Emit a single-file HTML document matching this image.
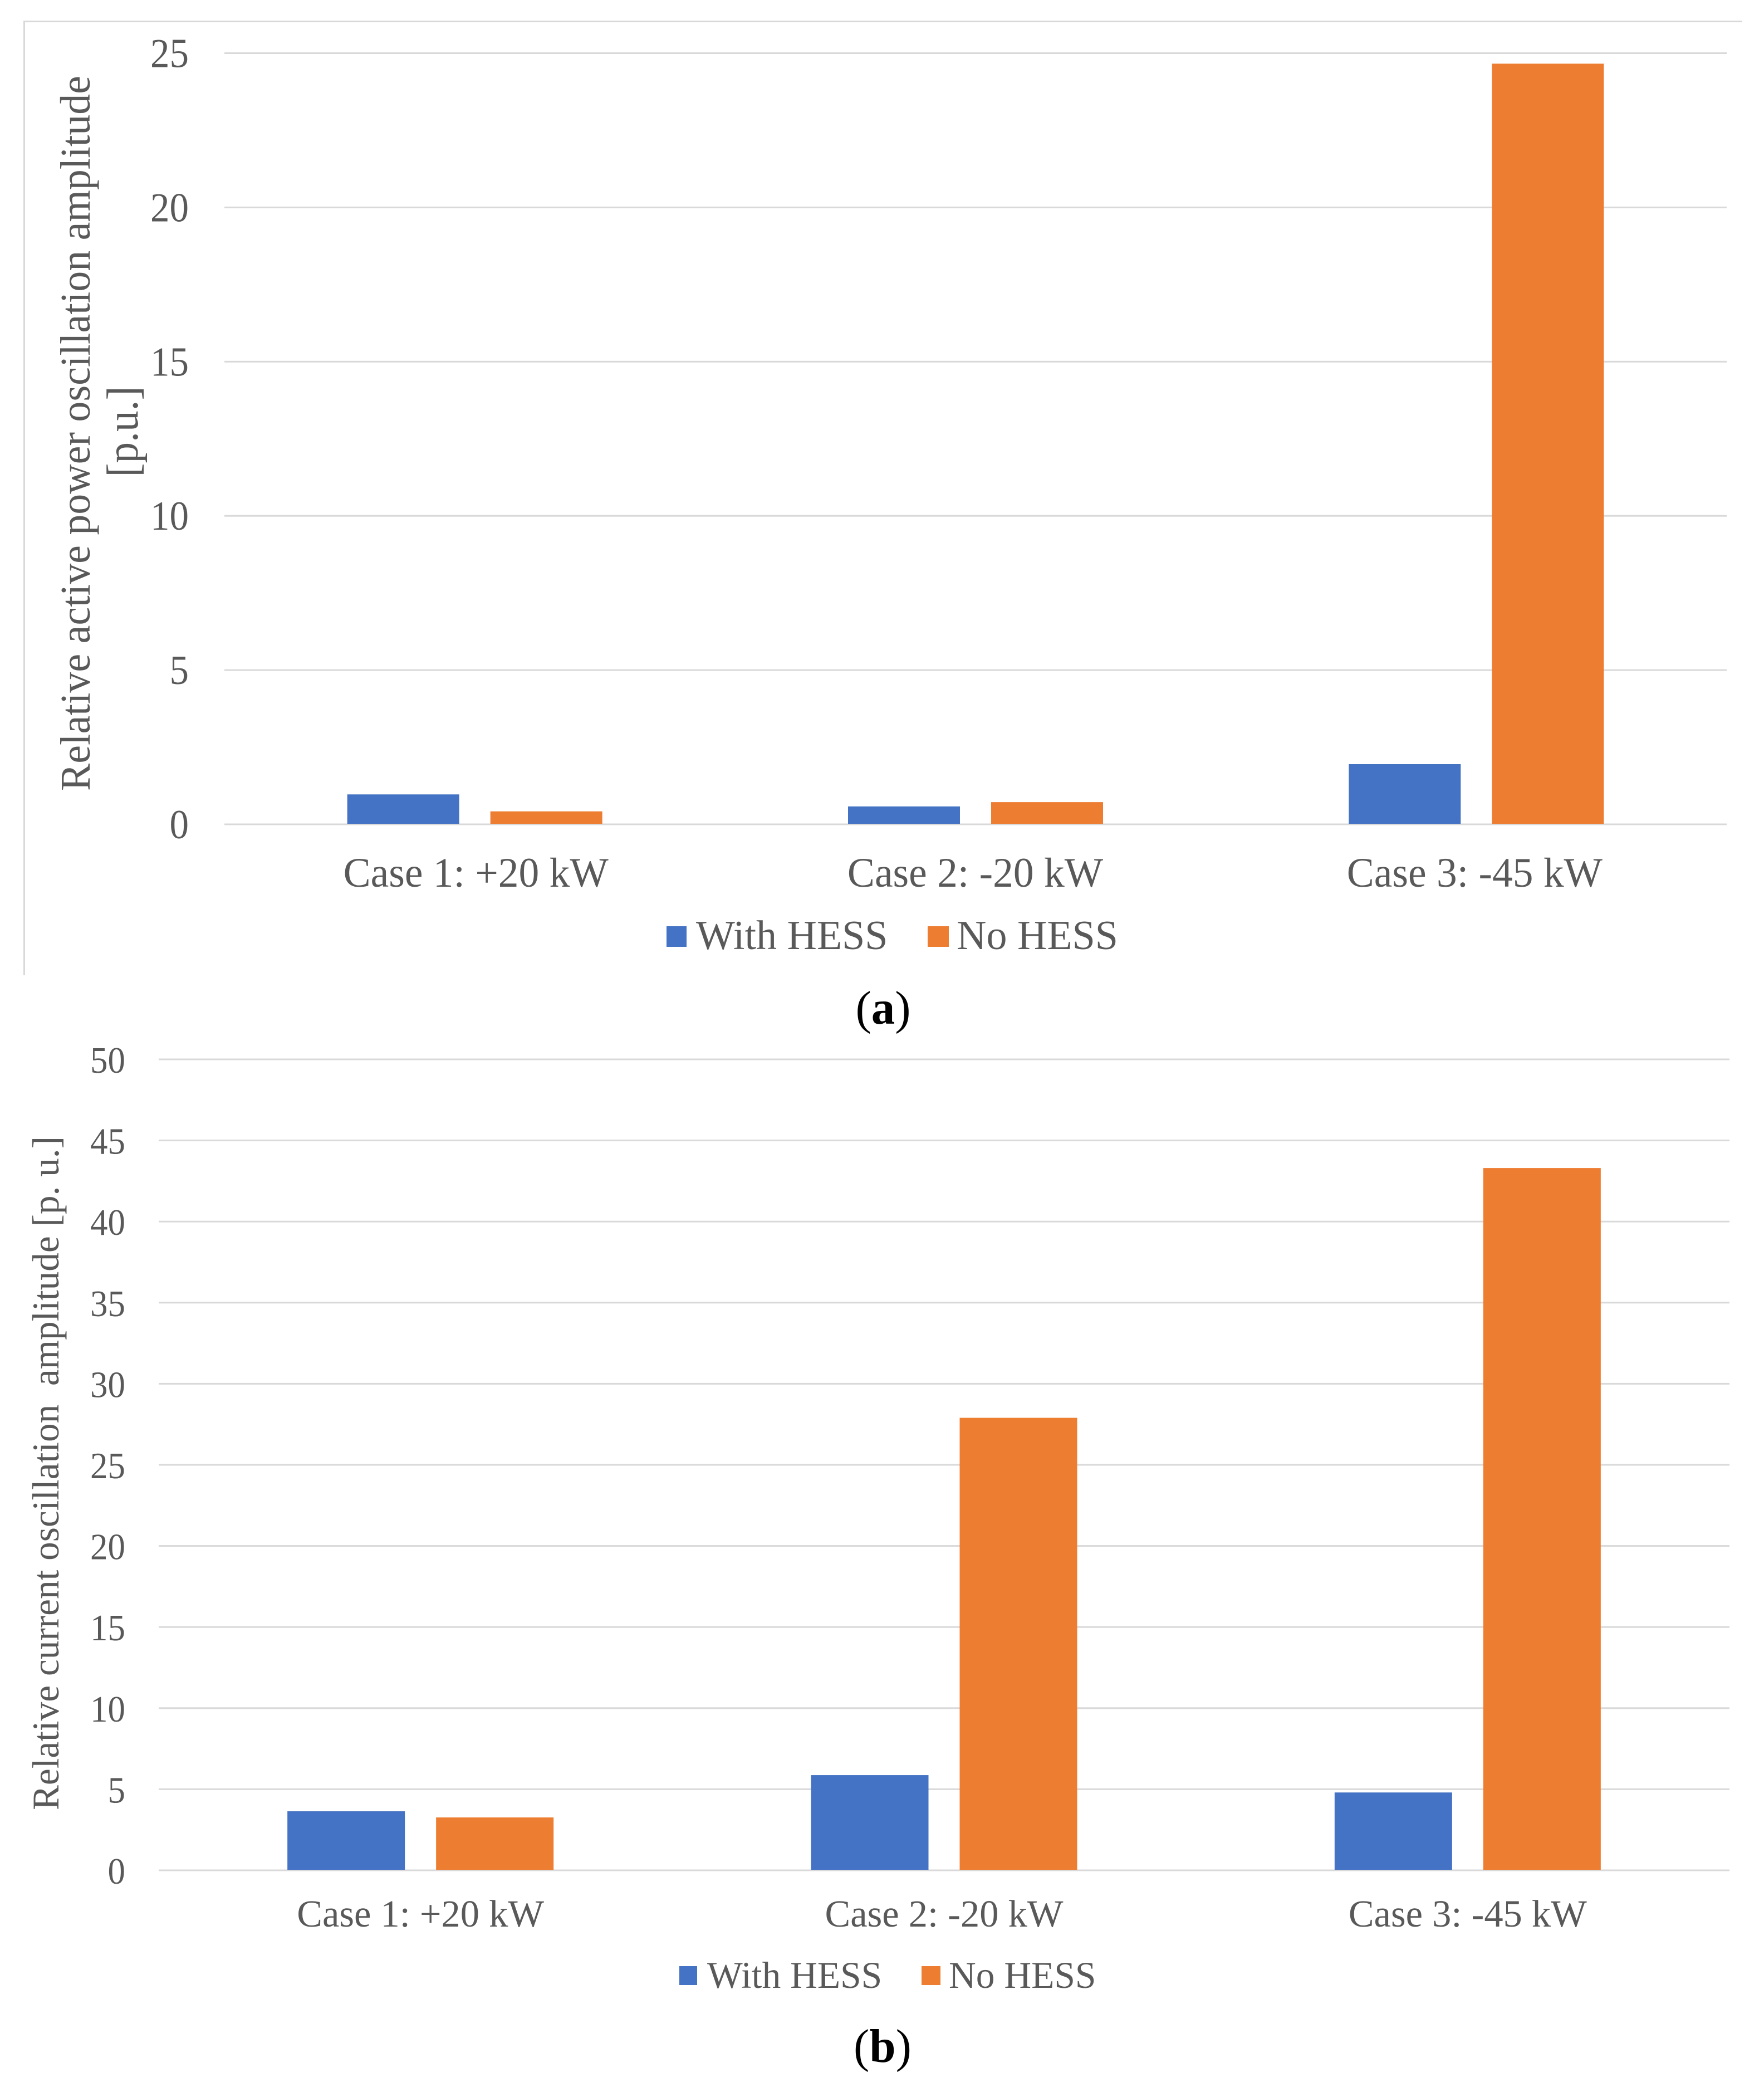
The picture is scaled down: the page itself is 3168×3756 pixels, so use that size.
<!DOCTYPE html>
<html lang="en">
<head>
<meta charset="utf-8">
<title>Relative oscillation amplitude charts</title>
<style>
html,body{margin:0;padding:0;background:#fff;}
svg{display:block;}
text{font-family:"Liberation Serif",serif;}
</style>
</head>
<body>
<svg id="figure" xmlns="http://www.w3.org/2000/svg" width="3168" height="3756" viewBox="0 0 3168 3756">
  <rect x="0" y="0" width="3168" height="3756" fill="#ffffff"/>
  <g stroke="#d9d9d9" stroke-width="3" fill="none">
    <path d="M43.5 1751V38.5H3129"/>
  </g>
  <g id="chart-a"></g>
  <g id="chart-b"></g>
  <text transform="translate(161,778) rotate(-90)" text-anchor="middle" font-size="76" fill="#595959" textLength="1284" lengthAdjust="spacingAndGlyphs">Relative active power oscillation amplitude</text>
  <text transform="translate(247,775) rotate(-90)" text-anchor="middle" font-size="80" fill="#595959" textLength="163" lengthAdjust="spacingAndGlyphs">[p.u.]</text>
  <text transform="translate(105,2645) rotate(-90)" text-anchor="middle" font-size="68" fill="#595959" textLength="1210" lengthAdjust="spacingAndGlyphs" xml:space="preserve">Relative current oscillation  amplitude [p. u.]</text>
  <text x="1586" y="1838" text-anchor="middle" font-size="85" fill="#000000">(<tspan font-weight="bold">a</tspan>)</text>
  <text x="1585" y="3702" text-anchor="middle" font-size="85" fill="#000000">(<tspan font-weight="bold">b</tspan>)</text>
</svg>
<script>
const categoriesA = ['Case 1: +20 kW', 'Case 2: -20 kW', 'Case 3: -45 kW'];
const withHessA = [0.97, 0.58, 1.95];
const noHessA = [0.42, 0.72, 24.66];
const tickLabelsA = [0, 5, 10, 15, 20, 25];

const categoriesB = ['Case 1: +20 kW', 'Case 2: -20 kW', 'Case 3: -45 kW'];
const withHessB = [3.64, 5.87, 4.8];
const noHessB = [3.26, 27.9, 43.3];
const tickLabelsB = [0, 5, 10, 15, 20, 25, 30, 35, 40, 45, 50];

const seriesNames = ['With HESS', 'No HESS'];

const SVG_NS = 'http://www.w3.org/2000/svg';
const BLUE = '#4472c4';
const ORANGE = '#ed7d31';
const INK = '#595959';
const GRID = '#d9d9d9';

function makeRect(parent, name, x, y, w, h, fill) {
  const el = document.createElementNS(SVG_NS, 'rect');
  
  
  el.setAttribute('x', x);
  el.setAttribute('y', y);
  el.setAttribute('width', w);
  el.setAttribute('height', Math.max(0, h));
  el.setAttribute('fill', fill);
  parent.appendChild(el);
  return el;
}

function makeText(parent, name, x, y, content, size, stretch, anchor) {
  const el = document.createElementNS(SVG_NS, 'text');
  
  
  el.setAttribute('transform', 'translate(' + x + ',' + y + ') scale(1,' + stretch + ')');
  el.setAttribute('font-size', size);
  el.setAttribute('fill', INK);
  el.setAttribute('text-anchor', anchor);
  el.textContent = content;
  parent.appendChild(el);
  return el;
}

function drawChart(o) {
  const root = document.getElementById(o.id);
  const maxTick = Math.max.apply(null, o.ticks);
  const yScale = function (v) { return o.y0 + (o.yTop - o.y0) * v / maxTick; };
  const band = (o.xRight - o.xLeft) / o.categories.length;
  const xCenter = function (i) { return o.xLeft + band * (i + 0.5); };

  o.ticks.forEach(function (t) {
    const y = yScale(t);
    makeRect(root, o.prefix + '-gridline-' + t, o.xLeft, y - 1.5, o.xRight - o.xLeft, 3, GRID);
    makeText(root, o.prefix + '-y-tick-' + t, o.tickX, y + o.tickDy, String(t), o.tickSize, o.tickStretch, 'end');
  });

  o.categories.forEach(function (c, i) {
    const cx = xCenter(i) + o.groupShift;
    makeRect(root, o.prefix + '-bar-with-hess-case-' + (i + 1), cx - o.gap / 2 - o.barWidth, yScale(o.withHess[i]), o.barWidth, o.y0 - 1 - yScale(o.withHess[i]), BLUE);
    makeRect(root, o.prefix + '-bar-no-hess-case-' + (i + 1), cx + o.gap / 2, yScale(o.noHess[i]), o.barWidth, o.y0 - 1 - yScale(o.noHess[i]), ORANGE);
    makeText(root, o.prefix + '-x-label-case-' + (i + 1), xCenter(i) + o.labelShift - i * o.labelDrift, o.labelY, c, o.labelSize, o.labelStretch, 'middle');
  });

  const lg = o.legend;
  makeRect(root, o.prefix + '-legend-swatch-with-hess', lg.x1, lg.top, lg.w1, lg.h, BLUE);
  makeText(root, o.prefix + '-legend-label-with-hess', lg.tx1, lg.base, seriesNames[0], lg.size, lg.stretch, 'start');
  makeRect(root, o.prefix + '-legend-swatch-no-hess', lg.x2, lg.top, lg.w2, lg.h, ORANGE);
  makeText(root, o.prefix + '-legend-label-no-hess', lg.tx2, lg.base, seriesNames[1], lg.size, lg.stretch, 'start');
}

drawChart({
  id: 'chart-a', prefix: 'chart-a',
  categories: categoriesA, withHess: withHessA, noHess: noHessA, ticks: tickLabelsA,
  y0: 1480, yTop: 95.5, xLeft: 403, xRight: 3101,
  barWidth: 201, gap: 56, groupShift: 0, labelShift: 2, labelDrift: 2.5,
  tickX: 339, tickDy: 25, tickSize: 69, tickStretch: 1.07,
  labelY: 1592, labelSize: 73.5, labelStretch: 1.02,
  legend: { x1: 1197, w1: 36, x2: 1666, w2: 38, top: 1663, h: 37, tx1: 1250, tx2: 1718, base: 1704, size: 74, stretch: 1.0 }
});

drawChart({
  id: 'chart-b', prefix: 'chart-b',
  categories: categoriesB, withHess: withHessB, noHess: noHessB, ticks: tickLabelsB,
  y0: 3358, yTop: 1902, xLeft: 285, xRight: 3106,
  barWidth: 211, gap: 56, groupShift: 0, labelShift: 0, labelDrift: 0,
  tickX: 225, tickDy: 24, tickSize: 63, tickStretch: 1.06,
  labelY: 3459, labelSize: 68.5, labelStretch: 1.01,
  legend: { x1: 1220, w1: 32, x2: 1655, w2: 34, top: 3530, h: 34, tx1: 1270, tx2: 1704, base: 3569, size: 67.5, stretch: 1.0 }
});
</script>
</body>
</html>
